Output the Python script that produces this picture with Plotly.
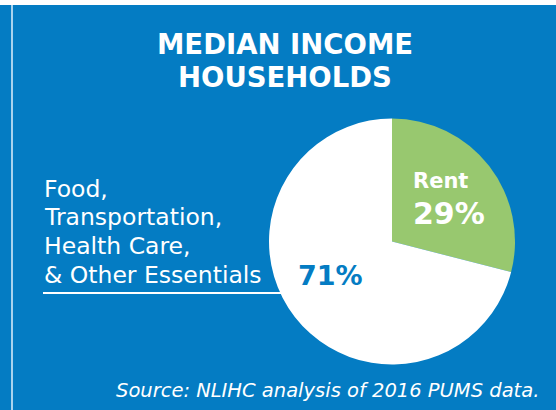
import plotly.graph_objects as go

# ---- data ----
categories = ["Rent", "Food, Transportation, Health Care, & Other Essentials"]
shares = [29, 71]
slice_colors = ["#98C86F", "#FFFFFF"]
title_lines = ["MEDIAN INCOME", "HOUSEHOLDS"]
essentials_lines = ["Food,", "Transportation,", "Health Care,", "& Other Essentials"]
source_text = "Source: NLIHC analysis of 2016 PUMS data."

W, H = 556, 410
BLUE = "#047CC3"

def px(x):
    return x / W

def py(y):
    return 1 - y / H

fig = go.Figure()
fig.add_trace(go.Pie(
    labels=categories,
    values=shares,
    sort=False,
    direction="clockwise",
    rotation=0,
    marker=dict(colors=slice_colors, line=dict(width=0)),
    textinfo="none",
    hoverinfo="skip",
    showlegend=False,
    domain=dict(x=[px(269), px(515)], y=[py(365), py(118)]),
))

ann = []
# title
for txt, yc in zip(title_lines, [44.5, 76.7]):
    ann.append(dict(text=f"<b>{txt}</b>", x=px(285), y=py(yc), xanchor="center", yanchor="middle",
                    font=dict(family="DejaVu Sans", size=27.5, color="white")))
# essentials label
for txt, yc in zip(essentials_lines, [189, 217, 246, 275]):
    ann.append(dict(text=txt, x=px(42), y=py(yc), xanchor="left", yanchor="middle",
                    font=dict(family="DejaVu Sans", size=23.5, color="white")))
# slice labels
ann.append(dict(text=f"<b>{categories[0]}</b>", x=px(411), y=py(181), xanchor="left", yanchor="middle",
                font=dict(family="DejaVu Sans", size=21, color="white")))
ann.append(dict(text=f"<b>{shares[0]}%</b>", x=px(411), y=py(213.5), xanchor="left", yanchor="middle",
                font=dict(family="DejaVu Sans", size=30, color="white")))
ann.append(dict(text=f"<b>{shares[1]}%</b>", x=px(330), y=py(275), xanchor="center", yanchor="middle",
                font=dict(family="DejaVu Sans", size=27, color=BLUE)))
# source
ann.append(dict(text=f"<i>{source_text}</i>", x=px(541), y=py(390), xanchor="right", yanchor="middle",
                font=dict(family="DejaVu Sans", size=19.5, color="white")))

for a in ann:
    a.update(xref="paper", yref="paper", showarrow=False)

shapes = [
    # top white band
    dict(type="rect", xref="paper", yref="paper", x0=0, x1=1, y0=py(5), y1=1,
         fillcolor="white", line=dict(width=0), layer="above"),
    # left light line
    dict(type="rect", xref="paper", yref="paper", x0=px(11), x1=px(13), y0=0, y1=py(5),
         fillcolor="#A9D3EE", line=dict(width=0), layer="above"),
    # underline
    dict(type="line", xref="paper", yref="paper", x0=px(43), x1=px(281), y0=py(293), y1=py(293),
         line=dict(color="white", width=2), layer="below"),
]

fig.update_layout(
    width=W, height=H,
    margin=dict(l=0, r=0, t=0, b=0),
    paper_bgcolor=BLUE, plot_bgcolor=BLUE,
    annotations=ann, shapes=shapes,
)

fig.write_html("out.html", config={"displayModeBar": False},
               post_script="document.body.style.margin='0';document.body.style.overflow='hidden';")
